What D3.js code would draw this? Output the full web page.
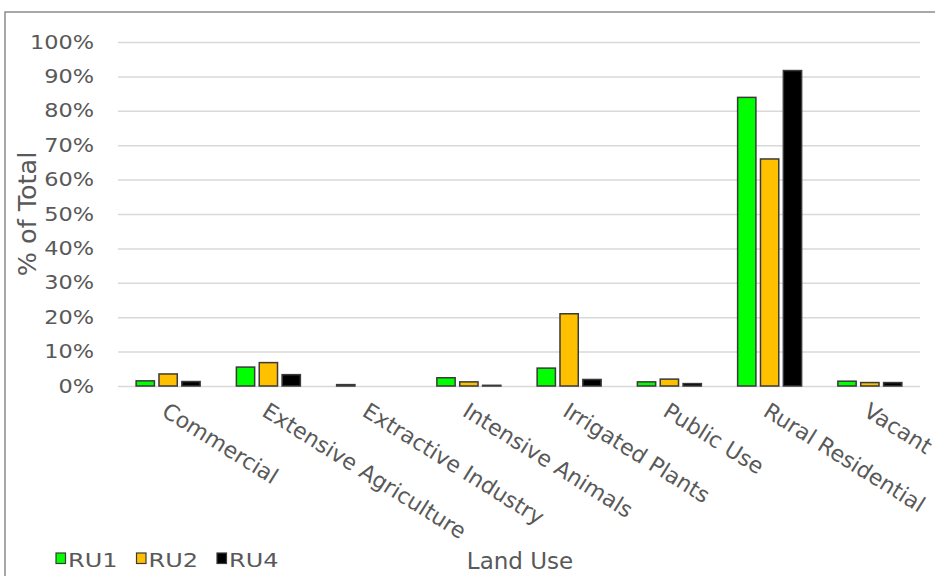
<!DOCTYPE html>
<html>
<head>
<meta charset="utf-8">
<script src="https://cdn.jsdelivr.net/npm/d3@7"></script>
<style>
  html, body { margin: 0; padding: 0; background: #fff; overflow: hidden; }
  svg { display: block; }
  text { font-family: "DejaVu Sans", Verdana, sans-serif; fill: #595959; }
</style>
</head>
<body>
<script>
// Share of total area by land use for each rural unit
const categories = ["Commercial", "Extensive Agriculture", "Extractive Industry", "Intensive Animals",
                    "Irrigated Plants", "Public Use", "Rural Residential", "Vacant"];
const seriesNames = ["RU1", "RU2", "RU4"];
const ru1 = [0.015, 0.055, 0.004, 0.024, 0.052, 0.012, 0.839, 0.014];
const ru2 = [0.035, 0.068, 0, 0.012, 0.210, 0.020, 0.660, 0.010];
const ru4 = [0.013, 0.033, 0, 0.002, 0.019, 0.007, 0.917, 0.010];
const yTicks = [0, 0.1, 0.2, 0.3, 0.4, 0.5, 0.6, 0.7, 0.8, 0.9, 1.0];
const colors = ["#00ff00", "#ffc000", "#000000"];

const values = [ru1, ru2, ru4];
const W = 935, H = 576;
const plot = { left: 118, right: 920, top: 42, bottom: 386 };

const svg = d3.select("body").append("svg").attr("width", W).attr("height", H);

// chart frame
svg.append("rect")
  .attr("x", 5).attr("y", 12).attr("width", W + 20).attr("height", H + 20)
  .attr("fill", "none").attr("stroke", "#8c8c8c").attr("stroke-width", 1.5);

const y = d3.scaleLinear().domain([0, 1]).range([plot.bottom, plot.top]);
const x0 = d3.scaleBand().domain(categories).range([plot.left, plot.right]).padding(0);
const groupW = 64;
const x1 = d3.scaleBand().domain(seriesNames).range([0, groupW]).paddingInner(0.2);

// horizontal gridlines and percentage labels
const yAxis = d3.axisLeft(y).tickValues(yTicks).tickFormat(d3.format(".0%"))
  .tickSize(-(plot.right - plot.left)).tickPadding(23);
const gy = svg.append("g").attr("transform", `translate(${plot.left},0)`).call(yAxis);
gy.select(".domain").remove();
gy.selectAll(".tick line").attr("stroke", "#d9d9d9").attr("stroke-width", 1.5);
gy.selectAll(".tick text")
  .attr("font-size", 19).attr("fill", "#595959")
  .attr("transform", "scale(1.18,1)")
  .attr("x", -24 / 1.18);

// bars
const groups = svg.append("g").selectAll("g")
  .data(categories)
  .join("g")
  .attr("transform", c => `translate(${x0(c) + (x0.bandwidth() - groupW) / 2},0)`);

groups.selectAll("rect")
  .data((c, i) => seriesNames.map((s, k) => ({ s, k, v: values[k][i] })))
  .join("rect")
  .filter(d => d.v > 0)
  .attr("x", d => x1(d.s))
  .attr("y", d => y(d.v))
  .attr("width", x1.bandwidth())
  .attr("height", d => y(0) - y(d.v))
  .attr("fill", d => colors[d.k])
  .attr("stroke", "#3a3a3a")
  .attr("stroke-width", 1.5);

// rotated category labels
svg.append("g").selectAll("text")
  .data(categories)
  .join("text")
  .attr("transform", c => `translate(${x0(c) + x0.bandwidth() / 2 + 1},${plot.bottom + 15}) rotate(32)`)
  .attr("dy", "0.75em")
  .attr("font-size", 22)
  .attr("text-anchor", "start")
  .text(c => c);

// axis titles
svg.append("text")
  .attr("transform", "translate(36,214) rotate(-90)")
  .attr("text-anchor", "middle")
  .attr("font-size", 25.5)
  .text("% of Total");

svg.append("text")
  .attr("x", 520).attr("y", 569)
  .attr("text-anchor", "middle")
  .attr("font-size", 23)
  .text("Land Use");

// legend
const legend = svg.append("g").attr("transform", "translate(56,553)");
const items = legend.selectAll("g")
  .data(seriesNames)
  .join("g")
  .attr("transform", (d, i) => `translate(${i * 80.5},0)`);
items.append("rect")
  .attr("width", 9.5).attr("height", 10.5)
  .attr("fill", (d, i) => colors[i])
  .attr("stroke", "#3a3a3a").attr("stroke-width", 1.2);
items.append("text")
  .attr("x", 10).attr("y", 13.5)
  .attr("font-size", 20)
  .attr("transform", "scale(1.2,1)")
  .text(d => d);
</script>
</body>
</html>
